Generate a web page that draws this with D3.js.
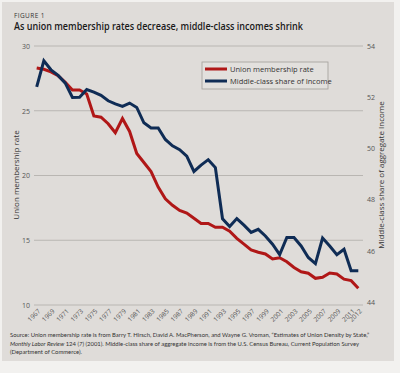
<!DOCTYPE html>
<html><head><meta charset="utf-8">
<script src="https://cdn.jsdelivr.net/npm/d3@7/dist/d3.min.js"></script>
<style>
html,body{margin:0;padding:0;background:#f2f1ef;}
svg{display:block;font-family:"Open Sans","Lato",sans-serif;}
</style></head>
<body><svg id="c" width="400" height="373"></svg>
<script>
const years = d3.range(1967, 2013);
const unionRate = [28.3,28.2,28.0,27.7,27.2,26.6,26.6,26.3,24.6,24.5,24.0,23.3,24.4,23.4,21.7,21.0,
  20.3,19.1,18.2,17.7,17.3,17.1,16.7,16.3,16.3,16.0,16.0,15.7,15.15,14.7,14.25,
  14.07,13.94,13.55,13.65,13.34,12.9,12.57,12.45,12.06,12.14,12.47,12.4,12.0,11.88,11.3];
const middleShare = [52.4,53.42,53.07,52.85,52.55,51.99,52.0,52.3,52.2,52.07,51.86,51.74,51.64,51.77,51.6,51.0,
  50.8,50.8,50.35,50.1,49.95,49.7,49.1,49.35,49.56,49.25,47.25,46.95,47.26,47.0,46.72,
  46.84,46.58,46.26,45.85,46.52,46.52,46.19,45.74,45.5,46.5,46.19,45.85,46.06,45.22,45.22];
const leftTicks = [10,15,20,25,30];
const rightTicks = [44,46,48,50,52,54];
const xTickYears = [1967,1969,1971,1973,1975,1977,1979,1981,1983,1985,1987,1989,1991,1993,1995,1997,1999,2001,2003,2005,2007,2009,2011,2012];
const seriesNames = ["Union membership rate","Middle-class share of Income"];
const colors = ["#b01717","#0f2c55"];

const svg = d3.select("#c");
svg.append("rect").attr("x",2).attr("y",2).attr("width",392).attr("height",359).attr("fill","#dfdcd9");

svg.append("text").attr("x",14).attr("y",17.5).attr("font-size",6.5).attr("fill","#333")
  .attr("letter-spacing",0.4).text("FIGURE 1");
svg.append("text").attr("x",14).attr("y",30).attr("font-size",10.5).attr("font-weight",600).attr("fill","#1a1a1a")
  .attr("textLength",289).attr("lengthAdjust","spacingAndGlyphs")
  .text("As union membership rates decrease, middle-class incomes shrink");

const x = d3.scaleLinear().domain([1967,2012]).range([36.7,358.3]);
const yL = d3.scaleLinear().domain([10,30]).range([305,46]);
const yR = d3.scaleLinear().domain([44,54]).range([302,46]);

// gridlines
svg.append("g").selectAll("line").data(leftTicks).join("line")
  .attr("x1",34).attr("x2",363).attr("y1",d=>yL(d)).attr("y2",d=>yL(d))
  .attr("stroke","#b9b6b2").attr("stroke-width",1);

// left axis
const gl = svg.append("g").attr("transform","translate(34,0)")
  .call(d3.axisLeft(yL).tickValues(leftTicks).tickSize(0).tickPadding(4));
gl.select(".domain").remove();
gl.selectAll("text").attr("font-size",7).attr("fill","#555").attr("font-family","Open Sans");

// right axis
const gr = svg.append("g").attr("transform","translate(363,0)")
  .call(d3.axisRight(yR).tickValues(rightTicks).tickSize(0).tickPadding(4));
gr.select(".domain").remove();
gr.selectAll("text").attr("font-size",7).attr("fill","#555").attr("font-family","Open Sans");

// x axis labels
const gx = svg.append("g").attr("transform","translate(0,306)")
  .call(d3.axisBottom(x).tickValues(xTickYears).tickFormat(d3.format("d")).tickSize(0).tickPadding(0));
gx.select(".domain").remove();
gx.selectAll("text").attr("font-size",6.5).attr("fill","#555").attr("font-family","Open Sans")
  .attr("text-anchor","end").attr("dy","0.35em").attr("dx",0)
  .attr("transform","translate(2,4) rotate(-45)");

// axis titles
svg.append("text").attr("transform","translate(19,175) rotate(-90)").attr("text-anchor","middle")
  .attr("font-size",8).attr("fill","#333").text("Union membership rate");
svg.append("text").attr("transform","translate(384,175) rotate(-90)").attr("text-anchor","middle")
  .attr("font-size",8).attr("fill","#333").text("Middle-class share of aggregate Income");

// lines
const lineL = d3.line().x((d,i)=>x(years[i])).y(d=>yL(d));
const lineR = d3.line().x((d,i)=>x(years[i])).y(d=>yR(d));
svg.append("path").attr("d",lineL(unionRate)).attr("fill","none").attr("stroke",colors[0])
  .attr("stroke-width",3).attr("stroke-linejoin","miter");
svg.append("path").attr("d",lineR(middleShare)).attr("fill","none").attr("stroke",colors[1])
  .attr("stroke-width",3).attr("stroke-linejoin","miter");

// legend
const lg = svg.append("g");
lg.append("rect").attr("x",202).attr("y",62).attr("width",126).attr("height",27)
  .attr("fill","#e2e0dd").attr("stroke","#a19e9a").attr("stroke-width",0.8);
seriesNames.forEach((n,i)=>{
  const yy = 69 + i*12;
  lg.append("line").attr("x1",205).attr("x2",227).attr("y1",yy).attr("y2",yy)
    .attr("stroke",colors[i]).attr("stroke-width",3);
  lg.append("text").attr("x",230).attr("y",yy).attr("dy","0.35em").attr("font-size",7.5)
    .attr("fill","#333").text(n);
});

// source (sized to fit measured width)
const srcG = svg.append("g").attr("font-family","Lato, 'Open Sans', sans-serif").attr("fill","#333");
const s1 = srcG.append("text").attr("x",10).attr("y",337).attr("font-size",10)
  .text("Source: Union membership rate is from Barry T. Hirsch, David A. MacPherson, and Wayne G. Vroman, \u201cEstimates of Union Density by State,\u201d");
const w1 = s1.node().getComputedTextLength();
const fs = Math.min(6.8, 10 * 360 / w1);
s1.attr("font-size",fs);
const l2 = srcG.append("text").attr("x",10).attr("y",345.5).attr("font-size",fs);
l2.append("tspan").attr("font-style","italic").text("Monthly Labor Review");
l2.append("tspan").text(" 124 (");
l2.append("tspan").attr("font-style","italic").text("7");
l2.append("tspan").text(") (2001). Middle-class share of aggregate income is from the U.S. Census Bureau, Current Population Survey");
srcG.append("text").attr("x",10).attr("y",354).attr("font-size",fs).text("(Department of Commerce).");
</script></body></html>
